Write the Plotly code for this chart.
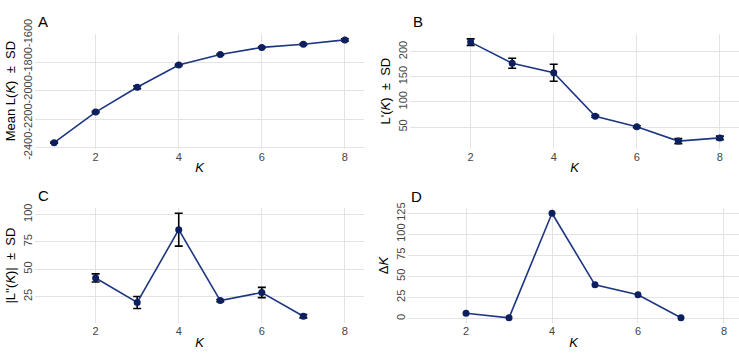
import plotly.graph_objects as go

W, H = 739, 361

K_A = [1, 2, 3, 4, 5, 6, 7, 8]
meanL = [-2367, -2150, -1974, -1816, -1742, -1691, -1669, -1638]
meanL_sd = [4, 5, 10, 5, 4, 4, 5, 8]

K_B = [2, 3, 4, 5, 6, 7, 8]
Lp = [219, 177, 158, 71.5, 50.6, 22, 28.4]
Lp_sd = [6.5, 10, 17, 2, 2, 5, 3.5]

K_C = [2, 3, 4, 5, 6, 7]
Lpp = [42, 19.6, 86, 21.3, 28.7, 7.1]
Lpp_sd = [3.7, 5.5, 15, 1, 4.7, 1.5]

K_D = [2, 3, 4, 5, 6, 7]
dK = [6.3, 0.8, 125, 40, 28.3, 1]

x_ticks = [2, 4, 6, 8]
A_ticks = [-2400, -2200, -2000, -1800, -1600]
A_ticktext = ["-2400", "-2200", "-2000", "-1800", "-1600"]
B_ticks = [50, 100, 150, 200]
C_ticks = [25, 50, 75, 100]
D_ticks = [0, 25, 50, 75, 100, 125]

LINE = "#1d3680"
PT = "#0c1f5e"
GRID = "#e3e3e3"
TXT = "#444444"

fig = go.Figure()

def add(x, y, sd, xa, ya):
    err = None
    if sd is not None:
        err = dict(type="data", array=sd, visible=True, color="black", thickness=1.6, width=4)
    fig.add_trace(go.Scatter(
        x=x, y=y, mode="lines+markers", xaxis=xa, yaxis=ya,
        line=dict(color=LINE, width=1.6),
        marker=dict(color=PT, size=7),
        error_y=err, showlegend=False, hoverinfo="skip"))

add(K_A, meanL, meanL_sd, "x", "y")
add(K_B, Lp, Lp_sd, "x2", "y2")
add(K_C, Lpp, Lpp_sd, "x3", "y3")
add(K_D, dK, None, "x4", "y4")

def px(x0, x1):
    return [x0 / W, x1 / W]

def py(top, bot):
    return [1 - bot / H, 1 - top / H]

tickfont = dict(family="Liberation Sans, Arial", size=11, color=TXT)
titlefont = dict(family="Liberation Sans, Arial", size=13, color="black")

def xax(dom, rng, anchor):
    return dict(domain=dom, range=rng, anchor=anchor, tickvals=x_ticks,
                showgrid=True, gridcolor=GRID, gridwidth=1, zeroline=False,
                showline=False, ticks="", tickfont=tickfont,
                title=dict(text="<i>K</i>", font=titlefont, standoff=1))

def yax(dom, rng, anchor, ticks, title, ticktext=None):
    d = dict(domain=dom, range=rng, anchor=anchor, tickvals=ticks,
             tickangle=-90, showgrid=True, gridcolor=GRID, gridwidth=1,
             zeroline=False, showline=False, ticks="", tickfont=tickfont,
             title=dict(text=title, font=titlefont, standoff=3))
    if ticktext is not None:
        d["ticktext"] = ticktext
    return d

top_row = py(20, 144)
bot_row = py(208, 332)

fig.update_layout(
    width=W, height=H,
    margin=dict(l=0, r=0, t=0, b=0),
    paper_bgcolor="white", plot_bgcolor="white",
    xaxis=xax(px(35, 364), [0.54, 8.46], "y"),
    yaxis=yax(top_row, [-2409, -1593], "x", A_ticks, "Mean L(<i>K</i>)  ±  SD", A_ticktext),
    xaxis2=xax(px(410, 739), [0.54, 8.46], "y2"),
    yaxis2=yax(top_row, [7, 236], "x2", B_ticks, "L'(<i>K</i>)  ±  SD"),
    xaxis3=xax(px(35, 364), [0.54, 8.46], "y3"),
    yaxis3=yax(bot_row, [0.8, 105.8], "x3", C_ticks, "|L''(<i>K</i>)|  ±  SD"),
    xaxis4=xax(px(408, 739), [0.65, 8.35], "y4"),
    yaxis4=yax(bot_row, [-5.4, 131.2], "x4", D_ticks, "Δ<i>K</i>"),
)

for lab, x, y in [("A", 36, 7), ("B", 411, 7), ("C", 36, 194), ("D", 409, 196)]:
    fig.add_annotation(text=lab, x=x / W, y=1 - y / H, xref="paper", yref="paper",
                       xanchor="left", yanchor="middle", showarrow=False,
                       font=dict(family="Liberation Sans, Arial", size=15, color="black"))

fig.write_html("out.html")
